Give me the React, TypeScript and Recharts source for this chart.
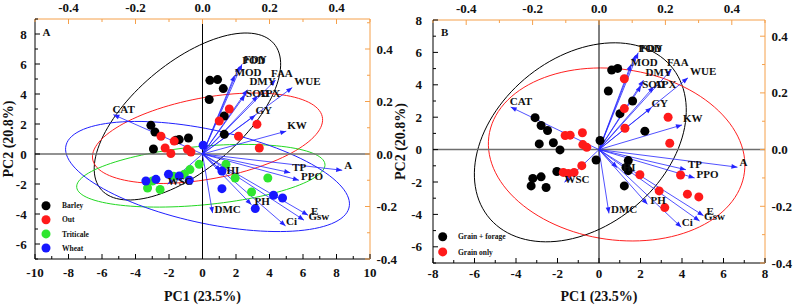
import { ComposedChart, Scatter, Line, XAxis, YAxis, ReferenceLine } from 'recharts';

const FONT = '"Liberation Serif", "Times New Roman", serif';
const ORANGE = '#f5a04b';
const ARROW = '#2424ff';

// PCA scores, panel A (grouped by crop)
const barley = [[0.44, 4.91], [0.9, 4.96], [1.24, 4.36], [0.4, 3.63], [1.3, 2.53], [1.3, 1.31], [-3.08, 1.91], [-2.84, 1.47], [-1.39, 0.96], [-1.59, 0.91], [-0.84, 1.07], [-2.93, 0.33]];
const oat = [[1.6, 3.0], [1.0, 2.2], [3.25, 1.98], [2.15, 1.18], [3.39, 0.4], [-2.48, 1.18], [-2.23, 0.4], [-1.69, 0.86], [-1.89, 0.03], [-0.9, 0.31], [-0.69, 0.13]];
const triticale = [[-3.28, -2.27], [-2.99, -1.8], [-2.53, -2.37], [-1.73, -1.49], [-1.09, -1.35], [-0.75, -1.04], [-0.2, -0.69], [1.4, -0.69], [1.95, -1.6], [2.93, -2.53], [3.9, -1.6]];
const wheat = [[0.04, 0.58], [-3.38, -1.8], [-2.78, -1.69], [-2.03, -1.35], [-1.39, -1.47], [-0.79, -1.75], [1.16, -1.13], [1.16, -2.31], [3.15, -3.64], [4.24, -2.75], [4.78, -2.93]];

// PCA scores, panel B (grouped by harvest system)
const grainForage = [[0.61, 4.91], [0.9, 5.01], [0.45, 3.62], [1.62, 3.0], [1.01, 2.22], [2.21, 1.14], [0.05, 0.56], [-3.08, 1.97], [-2.79, 1.49], [-2.48, 1.18], [-2.88, 0.35], [-2.2, 0.42], [-1.88, -0.02], [-0.14, -0.64], [-2.03, -1.35], [-3.19, -1.78], [-2.79, -1.68], [-3.27, -2.24], [-2.55, -2.34], [1.41, -0.68], [1.3, -1.1], [1.41, -1.3], [1.22, -2.24]];
const grainOnly = [[1.22, 4.37], [1.22, 2.53], [1.25, 1.32], [3.33, 2.0], [3.41, 0.39], [-1.63, 0.87], [-1.39, 0.89], [-0.8, 1.04], [-0.78, 0.31], [-0.59, 0.14], [-1.72, -1.41], [-1.48, -1.47], [-1.2, -1.41], [-0.83, -0.99], [1.97, -1.55], [3.93, -1.57], [2.9, -2.55], [4.26, -2.75], [4.81, -2.92], [3.17, -3.58]];

// variable loadings on PC1 / PC2
const varNames = ['POD', 'FDY', 'MOD', 'FAA', 'DMY', 'WUE', 'SOD', 'APX', 'GY', 'KW', 'CAT', 'WSC', 'A', 'TP', 'PPO', 'HI', 'DMC', 'PH', 'Ci', 'Gsw', 'E'];
const loadPC1 = [0.11, 0.118, 0.096, 0.218, 0.134, 0.268, 0.127, 0.165, 0.158, 0.25, -0.266, -0.104, 0.417, 0.262, 0.288, 0.055, 0.03, 0.146, 0.248, 0.303, 0.315];
const loadPC2 = [0.333, 0.342, 0.3, 0.282, 0.245, 0.253, 0.225, 0.222, 0.148, 0.087, 0.15, -0.115, -0.062, -0.071, -0.1, -0.064, -0.225, -0.193, -0.274, -0.252, -0.233];

// confidence ellipses: [centre x, centre y, semi-major, semi-minor, angle deg]
const barleyEllipse = [-0.9, 2.5, 7.1, 3.4, 45];
const oatEllipse = [0.3, 1.05, 7.0, 2.7, 12];
const triticaleEllipse = [-0.1, -1.45, 7.45, 1.95, 6];
const wheatEllipse = [0.3, -1.5, 8.7, 3.1, -14];
const grainForageEllipse = [-0.9, 0.45, 6.6, 4.5, 60];
const grainOnlyEllipse = [0.85, -0.3, 6.3, 5.2, -20];

// axis ticks
const pc1TicksA = [-10, -9, -8, -7, -6, -5, -4, -3, -2, -1, 0, 1, 2, 3, 4, 5, 6, 7, 8, 9, 10];
const pc1LabelsA = [-10, -8, -6, -4, -2, 0, 2, 4, 6, 8, 10];
const pc1TicksB = [-8, -7, -6, -5, -4, -3, -2, -1, 0, 1, 2, 3, 4, 5, 6, 7, 8];
const pc1LabelsB = [-8, -6, -4, -2, 0, 2, 4, 6, 8];
const pc2TicksA = [-7, -6, -5, -4, -3, -2, -1, 0, 1, 2, 3, 4, 5, 6, 7, 8, 9];
const pc2TicksB = [-7, -6, -5, -4, -3, -2, -1, 0, 1, 2, 3, 4, 5, 6, 7, 8];
const pc2Labels = [-6, -4, -2, 0, 2, 4, 6, 8];
const topTicks = [-0.5, -0.4, -0.3, -0.2, -0.1, 0, 0.1, 0.2, 0.3, 0.4, 0.5];
const rightTicksA = [-0.4, -0.3, -0.2, -0.1, 0, 0.1, 0.2, 0.3, 0.4, 0.5];
const rightTicksB = [-0.4, -0.3, -0.2, -0.1, 0, 0.1, 0.2, 0.3, 0.4];
const loadLabels = [-0.4, -0.2, 0, 0.2, 0.4];

// label offsets from the arrow tip (px)
const labelNudge: Record<string, [number, number]> = {
  POD: [3, -3], FDY: [2, -1], MOD: [0, 1], FAA: [-4.5, -3.3], DMY: [2, -4.6], WUE: [2, -2.5],
  SOD: [1, 2], APX: [0, 1], GY: [0, -1], KW: [1, -2.6], CAT: [-1, -2], WSC: [0, 1],
  A: [2, -1], TP: [2, -2], PPO: [2, 0], HI: [5.5, 3.6], DMC: [2, 0], PH: [3, 0],
  Ci: [0.5, -1], Gsw: [4.5, -0.6], E: [3, -0.6],
};

type Pt = { x: number; y: number };
const toPts = (arr: number[][]): Pt[] => arr.map(([x, y]) => ({ x, y }));

function ellipse(e: number[]): Pt[] {
  const [cx, cy, a, b, deg] = e;
  const t = (deg * Math.PI) / 180;
  const out: Pt[] = [];
  for (let i = 0; i <= 120; i++) {
    const s = (i / 120) * 2 * Math.PI;
    out.push({
      x: cx + a * Math.cos(s) * Math.cos(t) - b * Math.sin(s) * Math.sin(t),
      y: cy + a * Math.cos(s) * Math.sin(t) + b * Math.sin(s) * Math.cos(t),
    });
  }
  return out;
}

const arrows = varNames.map((name, i) => [
  { lx: 0, ly: 0, name },
  { lx: loadPC1[i], ly: loadPC2[i], name },
]);

// tail pixel is remembered from the first dot of each arrow line
let tail = { x: 0, y: 0 };
function arrowTip(p: any) {
  const { cx, cy, index, payload } = p;
  if (index === 0) {
    tail = { x: cx, y: cy };
    return <g key={`t-${payload.name}`} />;
  }
  const ang = Math.atan2(cy - tail.y, cx - tail.x);
  const L = 6;
  const W = 2.4;
  const bx = cx - L * Math.cos(ang);
  const by = cy - L * Math.sin(ang);
  const pts = `${cx},${cy} ${bx - W * Math.sin(ang)},${by + W * Math.cos(ang)} ${bx + W * Math.sin(ang)},${by - W * Math.cos(ang)}`;
  const [dx, dy] = labelNudge[payload.name] ?? [2, -2];
  return (
    <g key={`h-${payload.name}`}>
      <polygon points={pts} fill={ARROW} />
      <text x={cx + dx} y={cy + dy} fontFamily={FONT} fontWeight={700} fontSize={11} fill="#111">
        {payload.name}
      </text>
    </g>
  );
}

const dotShape = (color: string) => (p: any) => <circle cx={p.cx} cy={p.cy} r={4.5} fill={color} />;

const near = (v: number, list: number[]) => list.some((w) => Math.abs(w - v) < 1e-6);

function tickFor(side: 'bottom' | 'top' | 'left' | 'right', labeled: number[], color: string, gap: number, digits = 0) {
  return (p: any) => {
    const { x, y, payload } = p;
    const v = payload.value as number;
    const major = near(v, labeled);
    const len = major ? 5 : 3;
    const txt = major ? (digits ? v.toFixed(digits) : String(v)) : '';
    const tStyle = { fontFamily: FONT, fontWeight: 700, fontSize: 13, fill: '#111' };
    if (side === 'bottom')
      return (
        <g>
          <line x1={x} y1={y} x2={x} y2={y - len} stroke={color} />
          <text x={x} y={y + gap} textAnchor="middle" {...tStyle}>{txt}</text>
        </g>
      );
    if (side === 'top')
      return (
        <g>
          <line x1={x} y1={y} x2={x} y2={y + len} stroke={color} />
          <text x={x} y={y - gap} textAnchor="middle" {...tStyle}>{txt}</text>
        </g>
      );
    if (side === 'left')
      return (
        <g>
          <line x1={x} y1={y} x2={x + len} y2={y} stroke={color} />
          <text x={x - gap} y={y + 4.5} textAnchor="end" {...tStyle}>{txt}</text>
        </g>
      );
    return (
      <g>
        <line x1={x} y1={y} x2={x - len} y2={y} stroke={color} />
        <text x={x + gap} y={y + 4.5} textAnchor="start" {...tStyle}>{txt}</text>
      </g>
    );
  };
}

const titleStyle = { fontFamily: FONT, fontWeight: 700, fontSize: 14, fill: '#111' };

type Group = { data: number[][]; color: string; line: string; ell: number[] };

function Biplot(props: {
  width: number; leftW: number; rightW: number; top: number; bottomH: number;
  pc1: number[]; pc1Labels: number[]; pc1Dom: [number, number]; bottomGap: number;
  pc2: number[]; pc2Dom: [number, number]; leftGap: number;
  right: number[]; rightDom: [number, number];
  groups: Group[];
}) {
  const p = props;
  return (
    <ComposedChart width={p.width} height={305} margin={{ top: p.top, right: 0, bottom: 4, left: 0 }}>
      <XAxis xAxisId="pc" type="number" dataKey="x" domain={p.pc1Dom} ticks={p.pc1} interval={0} allowDataOverflow
        tickSize={0} tickMargin={0} tick={tickFor('bottom', p.pc1Labels, '#000', p.bottomGap)} stroke="#000" height={p.bottomH}
        label={{ value: 'PC1 (23.5%)', position: 'insideBottom', offset: 0, style: titleStyle }} />
      <XAxis xAxisId="ld" orientation="top" type="number" dataKey="lx" domain={[-0.5, 0.5]} ticks={topTicks} interval={0} allowDataOverflow
        tickSize={0} tickMargin={0} tick={tickFor('top', loadLabels, ORANGE, 7.5, 1)} stroke={ORANGE} height={14} />
      <YAxis yAxisId="pc" type="number" dataKey="y" domain={p.pc2Dom} ticks={p.pc2} interval={0} allowDataOverflow
        tickSize={0} tickMargin={0} tick={tickFor('left', pc2Labels, '#000', p.leftGap)} stroke="#000" width={p.leftW}
        label={{ value: 'PC2 (20.8%)', angle: -90, position: 'insideLeft', offset: 8, style: { ...titleStyle, textAnchor: 'middle' } }} />
      <YAxis yAxisId="ld" orientation="right" type="number" dataKey="ly" domain={p.rightDom} ticks={p.right} interval={0} allowDataOverflow
        tickSize={0} tickMargin={0} tick={tickFor('right', loadLabels, ORANGE, 6.5, 1)} stroke={ORANGE} width={p.rightW} />

      {p.groups.map((g, i) => (
        <Line key={`e${i}`} xAxisId="pc" yAxisId="pc" data={ellipse(g.ell)} dataKey="y" type="linear" stroke={g.line}
          strokeWidth={1} dot={false} activeDot={false} isAnimationActive={false} />
      ))}
      <ReferenceLine xAxisId="pc" yAxisId="pc" y={0} stroke="#6e6e6e" strokeWidth={1.5} />
      <ReferenceLine xAxisId="pc" yAxisId="pc" x={0} stroke="#000" strokeWidth={1} />
      {p.groups.map((g, i) => (
        <Scatter key={`s${i}`} xAxisId="pc" yAxisId="pc" data={toPts(g.data)} fill={g.color} shape={dotShape(g.color)} isAnimationActive={false} />
      ))}
      {arrows.map((d, i) => (
        <Line key={`a${i}`} xAxisId="ld" yAxisId="ld" data={d} dataKey="ly" type="linear" stroke={ARROW} strokeWidth={0.8}
          dot={arrowTip} activeDot={false} isAnimationActive={false} />
      ))}
    </ComposedChart>
  );
}

const legendA = [['Barley', '#000'], ['Out', '#ff1a1a'], ['Triticale', '#2fe62f'], ['Wheat', '#1717ff']];
const legendB = [['Grain + forage', '#000'], ['Grain only', '#ff1a1a']];

export default function App() {
  const lgStyle = { fontFamily: FONT, fontWeight: 700, fontSize: 7.5, fill: '#111' };
  return (
    <div style={{ position: 'absolute', left: 0, top: 0, width: 794, height: 305, background: '#fff' }}>
      <div style={{ position: 'absolute', left: 0, top: 0 }}>
        <Biplot width={400} leftW={35} rightW={30} top={5} bottomH={42}
          pc1={pc1TicksA} pc1Labels={pc1LabelsA} pc1Dom={[-10, 10]} bottomGap={18}
          pc2={pc2TicksA} pc2Dom={[-7, 9]} leftGap={8.3}
          right={rightTicksA} rightDom={[-0.4, 0.5143]}
          groups={[
            { data: barley, color: '#000', line: '#000', ell: barleyEllipse },
            { data: oat, color: '#ff1a1a', line: '#ff2020', ell: oatEllipse },
            { data: triticale, color: '#2fe62f', line: '#22d822', ell: triticaleEllipse },
            { data: wheat, color: '#1717ff', line: '#2020ff', ell: wheatEllipse },
          ]} />
      </div>
      <div style={{ position: 'absolute', left: 392, top: 0 }}>
        <Biplot width={402} leftW={41} rightW={29} top={6} bottomH={38}
          pc1={pc1TicksB} pc1Labels={pc1LabelsB} pc1Dom={[-8, 8]} bottomGap={15}
          pc2={pc2TicksB} pc2Dom={[-7, 8]} leftGap={11}
          right={rightTicksB} rightDom={[-0.4, 0.4571]}
          groups={[
            { data: grainForage, color: '#000', line: '#000', ell: grainForageEllipse },
            { data: grainOnly, color: '#ff1a1a', line: '#ff2020', ell: grainOnlyEllipse },
          ]} />
      </div>
      <svg width={794} height={305} style={{ position: 'absolute', left: 0, top: 0, pointerEvents: 'none' }}>
        <text x={42.5} y={36} fontFamily={FONT} fontWeight={700} fontSize={11} fill="#111">A</text>
        <text x={441} y={36} fontFamily={FONT} fontWeight={700} fontSize={11} fill="#111">B</text>
        {legendA.map(([name, c], i) => (
          <g key={name}>
            <circle cx={46} cy={205.7 + i * 14.1} r={4.5} fill={c} />
            <text x={62} y={208.3 + i * 14.1} {...lgStyle}>{name}</text>
          </g>
        ))}
        {legendB.map(([name, c], i) => (
          <g key={name}>
            <circle cx={442.7} cy={236.7 + i * 15.2} r={4.5} fill={c} />
            <text x={458} y={239.3 + i * 15.2} {...lgStyle}>{name}</text>
          </g>
        ))}
      </svg>
    </div>
  );
}
